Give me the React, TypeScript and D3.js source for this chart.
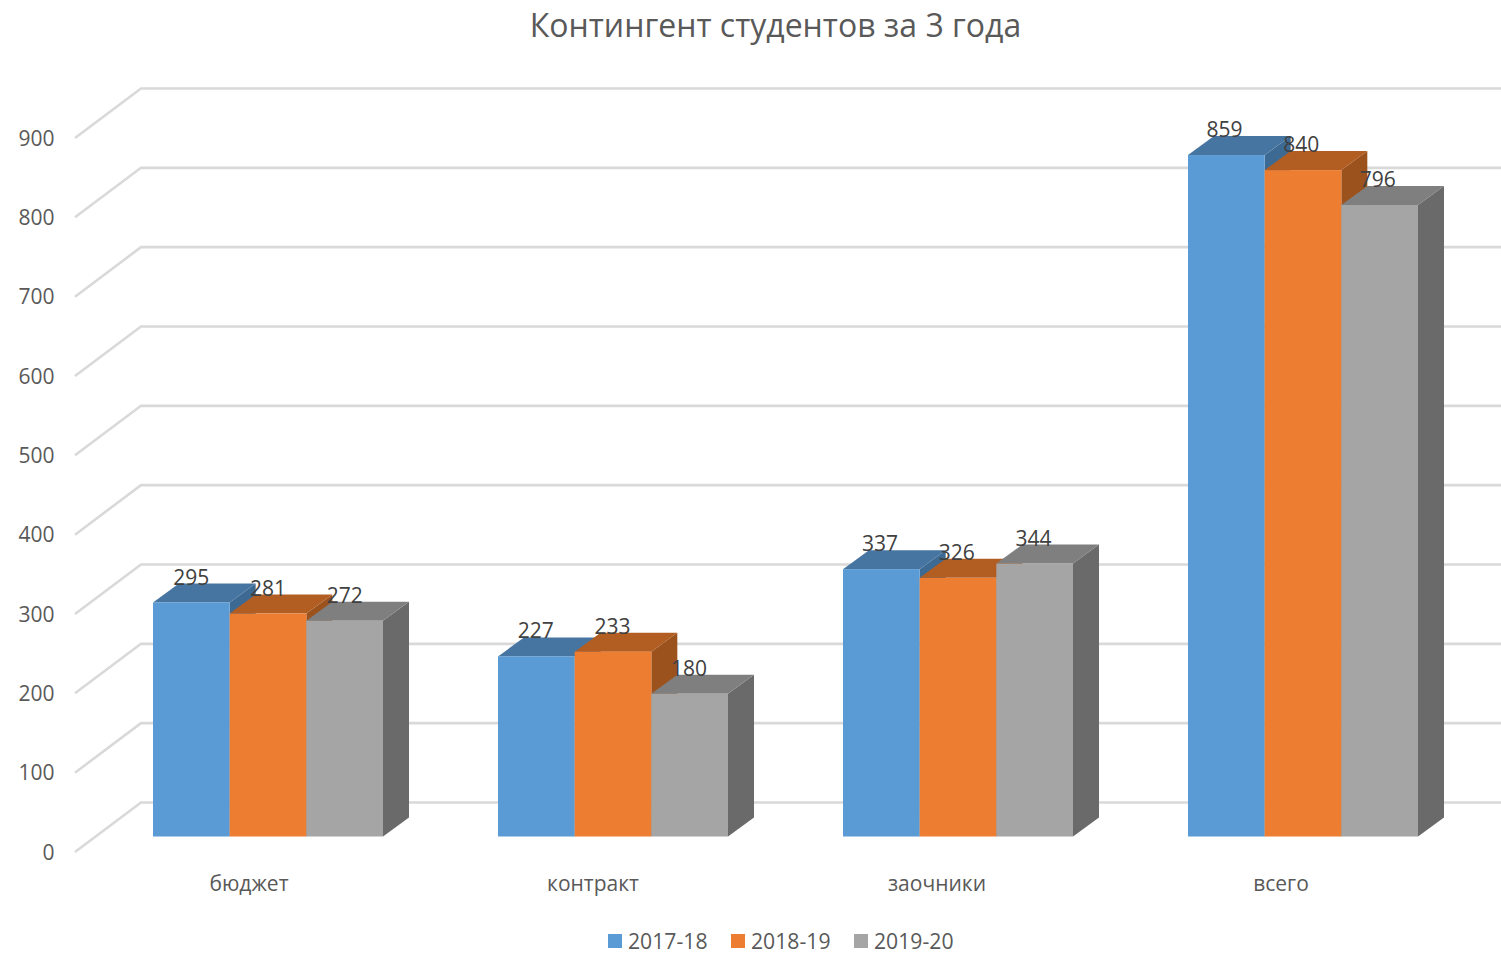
import * as d3 from "d3";

const categories = ["бюджет", "контракт", "заочники", "всего"];
const seriesNames = ["2017-18", "2018-19", "2019-20"];
const values2017 = [295, 227, 337, 859];
const values2018 = [281, 233, 326, 840];
const values2019 = [272, 180, 344, 796];
const seriesValues = [values2017, values2018, values2019];
const frontColors = ["#5b9bd5", "#ed7d31", "#a5a5a5"];
const topColors = ["#4675a1", "#b25d22", "#7f7f7f"];
const sideColors = ["#3d6a93", "#9c521d", "#6a6a6a"];
const yTicks = [0, 100, 200, 300, 400, 500, 600, 700, 800, 900];

const width = 1501;
const height = 954;
const font = "'Open Sans', sans-serif";

// back wall of the fake 3d box
const y = d3.scaleLinear().domain([0, 900]).range([802.5, 88.5]);
const wallLeft = 141;
const floorDx = 66;
const floorDy = 49.5;
// bars stand a bit in front of the wall
const barShift = 34;
const barDx = 26;
const barDy = 19;

const x0 = d3
  .scaleBand<string>()
  .domain(categories)
  .range([95.5, 1475.5])
  .paddingInner(1 / 3)
  .paddingOuter(1 / 6);
const x1 = d3
  .scaleBand<string>()
  .domain(seriesNames)
  .range([0, x0.bandwidth()]);
// the text in the picture is spaced a little tighter than the bars
const xLabel = d3.scalePoint<string>().domain(categories).range([249, 1281]);

const poly = (pts: [number, number][]) => {
  const p = d3.path();
  pts.forEach(([a, b], i) => (i === 0 ? p.moveTo(a, b) : p.lineTo(a, b)));
  p.closePath();
  return p.toString();
};

const App = () => {
  const base = y(0) + barShift;
  const w = x1.bandwidth();

  return (
    <svg
      width={width}
      height={height}
      style={{ position: "absolute", left: 0, top: 0, background: "#fff" }}
    >
      <text
        x={775.5}
        y={37}
        textAnchor="middle"
        fontFamily={font}
        fontSize={32}
        fill="#595959"
      >
        Контингент студентов за 3 года
      </text>

      {yTicks.map((t) => (
        <g key={t}>
          <path
            d={`M${wallLeft - floorDx},${y(t) + floorDy}L${wallLeft},${y(t)}L${width},${y(t)}`}
            fill="none"
            stroke="#d9d9d9"
            strokeWidth={2.6}
          />
          <text
            x={54.5}
            y={y(t) + floorDy}
            dy="0.36em"
            textAnchor="end"
            fontFamily={font}
            fontSize={21}
            fill="#595959"
          >
            {t}
          </text>
        </g>
      ))}

      {categories.map((c, ci) => (
        <g key={c}>
          {seriesNames.map((s, si) => {
            const left = x0(c)! + x1(s)!;
            const right = left + w;
            const top = y(seriesValues[si][ci]) + barShift;
            return (
              <g key={s}>
                <path
                  d={poly([
                    [right, top],
                    [right + barDx, top - barDy],
                    [right + barDx, base - barDy],
                    [right, base],
                  ])}
                  fill={sideColors[si]}
                />
                <path
                  d={poly([
                    [left, top],
                    [left + barDx, top - barDy],
                    [right + barDx, top - barDy],
                    [right, top],
                  ])}
                  fill={topColors[si]}
                />
                <rect
                  x={left}
                  y={top}
                  width={w}
                  height={base - top}
                  fill={frontColors[si]}
                />
              </g>
            );
          })}
        </g>
      ))}

      {categories.map((c, ci) =>
        seriesNames.map((s, si) => (
          <text
            key={c + s}
            x={x0(c)! + x1(s)! + w / 2 - ci * 0.6}
            y={y(seriesValues[si][ci]) + barShift - 25.5}
            dy="0.36em"
            textAnchor="middle"
            fontFamily={font}
            fontSize={21}
            fill="#404040"
          >
            {seriesValues[si][ci]}
          </text>
        ))
      )}

      {categories.map((c) => (
        <text
          key={c}
          x={xLabel(c)}
          y={883}
          dy="0.36em"
          textAnchor="middle"
          fontFamily={font}
          fontSize={21}
          fill="#595959"
        >
          {c}
        </text>
      ))}

      {seriesNames.map((s, i) => (
        <g key={s} transform={`translate(${608 + i * 123},934)`}>
          <rect width={14} height={14} fill={frontColors[i]} />
          <text
            x={20}
            y={7}
            dy="0.36em"
            fontFamily={font}
            fontSize={21.2}
            fill="#595959"
          >
            {s}
          </text>
        </g>
      ))}
    </svg>
  );
};

export default App;
